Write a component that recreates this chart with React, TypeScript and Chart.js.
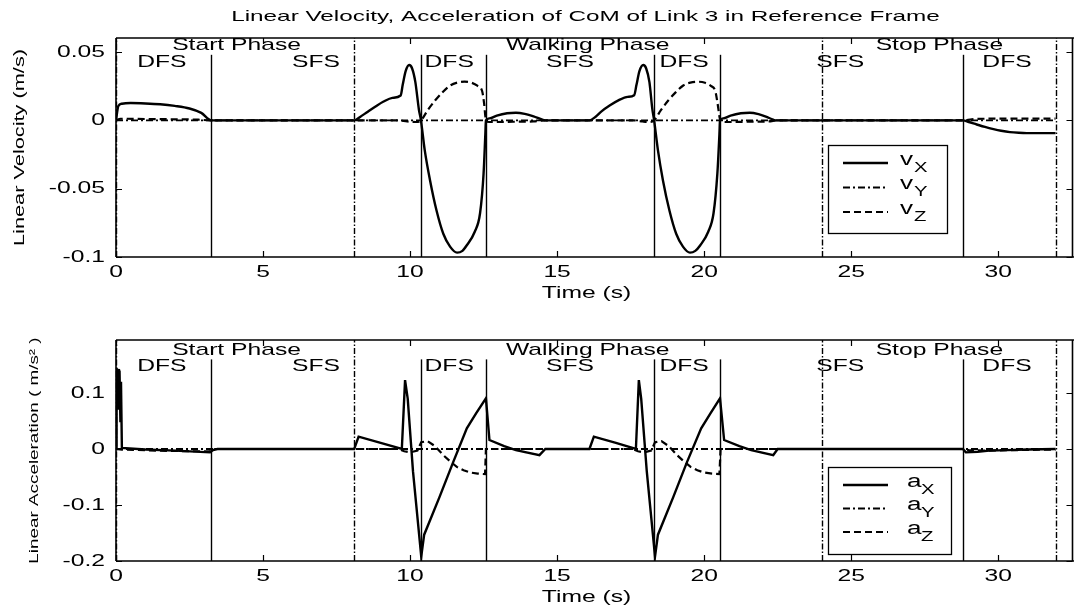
import React, { useEffect, useRef } from 'react';
import { Chart, registerables } from 'chart.js';

Chart.register(...registerables);

const FONT = '"Liberation Sans", Arial, Helvetica, sans-serif';
const TEXT_STRETCH = 1.45;
const TITLE_STRETCH = 1.62;

// ---------- texts ----------
const chartTitle = 'Linear Velocity, Acceleration of CoM of Link 3 in Reference Frame';
const xAxisTitle = 'Time (s)';
const velAxisTitle = 'Linear Velocity (m/s)';
const accAxisTitle = 'Linear Acceleration ( m/s\u00B2 )';

// ---------- axes ----------
const timeMin = 0;
const timeMax = 32;
const timeTicks = [0, 5, 10, 15, 20, 25, 30];
const timeTickLabels = ['0', '5', '10', '15', '20', '25', '30'];

const velMin = -0.1;
const velMax = 0.0603;
const velTicks = [-0.1, -0.05, 0, 0.05];
const velTickLabels = ['-0.1', '-0.05', '0', '0.05'];

const accMin = -0.2;
const accMax = 0.1946;
const accTicks = [-0.2, -0.1, 0, 0.1];
const accTickLabels = ['-0.2', '-0.1', '0', '0.1'];

// ---------- phases ----------
const phaseBounds = [0, 8.1, 24.0, 31.95];
const stepBounds = [3.23, 10.37, 12.58, 18.3, 20.54, 28.8];
const phaseNames = ['Start Phase', 'Walking Phase', 'Stop Phase'];
const phaseNameTimes = [4.1, 16.04, 28.0];
const stepNames = ['DFS', 'SFS', 'DFS', 'SFS', 'DFS', 'SFS', 'DFS'];
const stepNameTimes = [1.56, 6.8, 11.33, 15.44, 19.32, 24.63, 30.3];

// label heights / step line tops, in each plot's own units
const velPhaseLabelY = 0.0548;
const velStepLabelY = 0.0423;
const velStepLineTop = 0.048;
const accPhaseLabelY = 0.177;
const accStepLabelY = 0.148;
const accStepLineTop = 0.16;

// ---------- legend ----------
const velLegendBase = ['v', 'v', 'v'];
const accLegendBase = ['a', 'a', 'a'];
const legendSubs = ['X', 'Y', 'Z'];

// ---------- series: velocity (m/s) ----------
const vxPts: [number, number][] = [
  [0, 0], [0.08, 0.0105], [0.2, 0.0122], [0.5, 0.0127], [1.0, 0.0124], [1.5, 0.0118],
  [2.0, 0.0106], [2.5, 0.0087], [2.9, 0.0055], [3.25, 0], [8.1, 0], [8.3, 0.0025],
  [8.55, 0.0062], [8.8, 0.0098], [9.1, 0.0138], [9.4, 0.0165], [9.68, 0.0182],
  [9.75, 0.026], [9.85, 0.036], [9.97, 0.0405], [10.07, 0.038], [10.18, 0.028],
  [10.3, 0.008], [10.37, 0], [10.5, -0.022], [10.68, -0.044], [10.9, -0.066],
  [11.13, -0.083], [11.36, -0.0924], [11.6, -0.0968], [11.78, -0.0955], [11.93, -0.0914],
  [12.2, -0.0815], [12.38, -0.068], [12.5, -0.039], [12.56, -0.01], [12.58, 0],
  [12.7, 0.0015], [12.95, 0.0035], [13.3, 0.0052], [13.6, 0.0056], [13.9, 0.0048],
  [14.2, 0.003], [14.5, 0.0005], [14.6, 0], [16.1, 0], [16.3, 0.0025], [16.5, 0.0064],
  [16.8, 0.011], [17.1, 0.0148], [17.4, 0.0172], [17.62, 0.0184], [17.7, 0.026],
  [17.8, 0.036], [17.93, 0.0405], [18.03, 0.038], [18.14, 0.028], [18.24, 0.008],
  [18.3, 0], [18.43, -0.022], [18.6, -0.044], [18.82, -0.066], [19.05, -0.083],
  [19.28, -0.0924], [19.52, -0.0968], [19.7, -0.0955], [19.87, -0.0914], [20.14, -0.0815],
  [20.32, -0.068], [20.45, -0.039], [20.52, -0.01], [20.54, 0], [20.65, 0.0015],
  [20.9, 0.0035], [21.25, 0.0052], [21.55, 0.0056], [21.85, 0.0046], [22.1, 0.0028],
  [22.35, 0.0005], [22.45, 0], [28.8, 0], [29.0, -0.0012], [29.27, -0.003],
  [29.55, -0.0048], [29.84, -0.0064], [30.1, -0.0076], [30.4, -0.0086], [30.7, -0.0091],
  [30.97, -0.0093], [31.95, -0.0093],
];
const vyPts: [number, number][] = [[0, 0], [31.95, 0]];
const vzPts: [number, number][] = [
  [0, 0], [0.15, 0.0012], [1.0, 0.001], [2.0, 0.0008], [2.8, 0.0005], [3.25, 0],
  [9.6, 0], [9.9, -0.0008], [10.2, -0.0012], [10.37, 0], [10.6, 0.0075], [10.85, 0.0145],
  [11.1, 0.0205], [11.36, 0.0255], [11.6, 0.0276], [11.85, 0.0283], [12.1, 0.0275],
  [12.3, 0.0252], [12.45, 0.0215], [12.52, 0.012], [12.56, 0.003], [12.6, -0.001],
  [12.9, -0.0012], [13.5, -0.001], [14.2, -0.0008], [14.6, 0], [17.6, 0],
  [17.9, -0.0008], [18.15, -0.0012], [18.3, 0], [18.53, 0.0075], [18.78, 0.0145],
  [19.03, 0.0205], [19.29, 0.0255], [19.53, 0.0276], [19.78, 0.0283], [20.03, 0.0275],
  [20.23, 0.0252], [20.38, 0.0215], [20.46, 0.012], [20.52, 0.003], [20.56, -0.001],
  [20.85, -0.0012], [21.5, -0.001], [22.2, -0.0008], [22.5, 0], [28.8, 0],
  [29.1, 0.0008], [29.5, 0.0012], [30.5, 0.0013], [31.95, 0.0013],
];

// ---------- series: acceleration (m/s^2) ----------
const axPts: [number, number][] = [
  [0, 0], [0.02, 0.145], [0.05, 0.08], [0.07, 0.143], [0.1, 0.07], [0.12, 0.14],
  [0.15, 0.05], [0.17, 0.12], [0.2, 0.002],
  [1.0, -0.001], [2.0, -0.003], [3.2, -0.006], [3.3, -0.002], [3.45, 0], [8.1, 0],
  [8.25, 0.022], [9.0, 0.011], [9.72, 0], [9.83, 0.123], [9.92, 0.09], [10.1, -0.04],
  [10.38, -0.192], [10.48, -0.153], [11.0, -0.086], [11.47, -0.023], [11.93, 0.037],
  [12.25, 0.064], [12.58, 0.0905], [12.7, 0.016], [13.2, 0.005], [13.6, -0.002],
  [14.4, -0.011], [14.6, 0], [16.1, 0], [16.25, 0.022], [17.0, 0.011], [17.68, 0],
  [17.78, 0.123], [17.86, 0.09], [18.05, -0.04], [18.33, -0.192], [18.43, -0.153],
  [18.95, -0.086], [19.42, -0.023], [19.9, 0.037], [20.22, 0.064], [20.54, 0.0905],
  [20.68, 0.016], [21.2, 0.005], [21.6, -0.002], [22.35, -0.011], [22.5, 0], [28.8, 0],
  [28.9, -0.006], [29.3, -0.005], [29.7, -0.003], [30.3, -0.002], [31.0, -0.001], [31.95, 0],
];
const ayPts: [number, number][] = [[0, 0], [31.95, 0]];
const azPts: [number, number][] = [
  [0, 0], [0.2, -0.001], [1.5, -0.003], [2.5, -0.004], [3.2, -0.004], [3.3, 0],
  [9.6, 0], [9.8, -0.004], [10.0, -0.006], [10.25, -0.003], [10.38, 0.012], [10.6, 0.014],
  [10.85, 0.005], [11.13, -0.011], [11.36, -0.022], [11.59, -0.032], [11.82, -0.038],
  [12.04, -0.042], [12.3, -0.044], [12.55, -0.045], [12.58, 0], [17.55, 0],
  [17.75, -0.004], [17.95, -0.006], [18.2, -0.003], [18.33, 0.012], [18.55, 0.014],
  [18.8, 0.005], [19.08, -0.011], [19.31, -0.022], [19.54, -0.032], [19.77, -0.038],
  [20.0, -0.042], [20.27, -0.044], [20.52, -0.045], [20.56, 0], [28.8, 0],
  [29.0, -0.002], [29.5, -0.003], [30.5, -0.002], [31.95, -0.001],
];

// ---------- line styles ----------
const SOLID: number[] = [];
const DASHDOT = [7, 3, 2, 3];
const DASHED = [7, 4];
const lineStyles = [
  { dash: SOLID, width: 2.4 },
  { dash: DASHDOT, width: 1.8 },
  { dash: DASHED, width: 2.2 },
];

function installStretch(ctx: any) {
  if (ctx.__stretched) return;
  const orig = ctx.fillText;
  ctx.__stretched = true;
  ctx.__sx = TEXT_STRETCH;
  ctx.fillText = function (text: string, x: number, y: number, maxWidth?: number) {
    const sx = ctx.__sx || 1;
    ctx.save();
    ctx.translate(x, y);
    ctx.scale(sx, 1);
    if (maxWidth === undefined || maxWidth === null) orig.call(ctx, text, 0, 0);
    else orig.call(ctx, text, 0, 0, maxWidth / sx);
    ctx.restore();
  };
}

interface PlotSpec {
  series: [number, number][][];
  labels: string[];
  legendBase: string[];
  yMin: number;
  yMax: number;
  yTicks: number[];
  yTickLabels: string[];
  yTitle: string;
  yTitleSize: number;
  yTitlePad: number;
  padTop: number;
  xAxisHeight: number;
  xTitlePadBottom: number;
  phaseLabelY: number;
  stepLabelY: number;
  stepLineTop: number;
  legendBox: { x: number; y: number; w: number; h: number; rows: number[]; textX: number; subDx: number };
  smooth: boolean;
  showTitle: boolean;
}

function makeDecor(spec: PlotSpec) {
  return {
    id: 'decor',
    beforeInit(chart: any) {
      installStretch(chart.ctx);
    },
    beforeDatasetsDraw(chart: any) {
      const ctx = chart.ctx;
      const xs = chart.scales.x;
      const ys = chart.scales.y;
      const yBottom = ys.getPixelForValue(spec.yMin);
      ctx.save();
      ctx.strokeStyle = '#000';
      ctx.lineWidth = 1.4;
      ctx.setLineDash([]);
      for (const t of stepBounds) {
        const px = Math.round(xs.getPixelForValue(t)) + 0.5;
        ctx.beginPath();
        ctx.moveTo(px, yBottom);
        ctx.lineTo(px, ys.getPixelForValue(spec.stepLineTop));
        ctx.stroke();
      }
      ctx.setLineDash([6, 2, 1.5, 2]);
      for (const t of phaseBounds) {
        const px = Math.round(xs.getPixelForValue(t)) + 0.5;
        ctx.beginPath();
        ctx.moveTo(px, yBottom);
        ctx.lineTo(px, ys.getPixelForValue(spec.yMax));
        ctx.stroke();
      }
      ctx.restore();
    },
    afterDatasetsDraw(chart: any) {
      const ctx = chart.ctx;
      const xs = chart.scales.x;
      const ys = chart.scales.y;
      const { left, top, bottom } = chart.chartArea;
      const R = chart.width - 1.5;
      ctx.save();
      // frame
      ctx.strokeStyle = '#000';
      ctx.lineWidth = 1.6;
      ctx.setLineDash([]);
      ctx.beginPath();
      ctx.moveTo(left, top);
      ctx.lineTo(chart.width, top);
      ctx.moveTo(left, bottom);
      ctx.lineTo(chart.width, bottom);
      ctx.moveTo(left, top);
      ctx.lineTo(left, bottom);
      ctx.moveTo(R, top);
      ctx.lineTo(R, bottom);
      ctx.stroke();
      // inward ticks
      ctx.lineWidth = 1.2;
      ctx.beginPath();
      for (const tk of xs.ticks) {
        const px = Math.round(xs.getPixelForValue(tk.value)) + 0.5;
        ctx.moveTo(px, bottom);
        ctx.lineTo(px, bottom - 6);
        ctx.moveTo(px, top);
        ctx.lineTo(px, top + 6);
      }
      for (const tk of ys.ticks) {
        const py = Math.round(ys.getPixelForValue(tk.value)) + 0.5;
        ctx.moveTo(left, py);
        ctx.lineTo(left + 6, py);
        ctx.moveTo(R, py);
        ctx.lineTo(R - 6, py);
      }
      ctx.stroke();

      // phase and step labels
      ctx.fillStyle = '#000';
      ctx.textAlign = 'center';
      ctx.textBaseline = 'middle';
      ctx.font = `17px ${FONT}`;
      phaseNames.forEach((name, i) => {
        ctx.fillText(name, xs.getPixelForValue(phaseNameTimes[i]), ys.getPixelForValue(spec.phaseLabelY));
      });
      stepNames.forEach((name, i) => {
        ctx.fillText(name, xs.getPixelForValue(stepNameTimes[i]), ys.getPixelForValue(spec.stepLabelY));
      });

      // legend
      const lb = spec.legendBox;
      ctx.fillStyle = '#fff';
      ctx.fillRect(lb.x, lb.y, lb.w, lb.h);
      ctx.strokeStyle = '#000';
      ctx.lineWidth = 1.3;
      ctx.setLineDash([]);
      ctx.strokeRect(lb.x + 0.5, lb.y + 0.5, lb.w, lb.h);
      chart.data.datasets.forEach((ds: any, i: number) => {
        const ry = lb.rows[i];
        ctx.strokeStyle = '#000';
        ctx.lineWidth = ds.borderWidth;
        ctx.setLineDash(ds.borderDash || []);
        ctx.beginPath();
        ctx.moveTo(lb.x + 15, ry);
        ctx.lineTo(lb.x + 60, ry);
        ctx.stroke();
        ctx.setLineDash([]);
        ctx.fillStyle = '#000';
        ctx.textAlign = 'left';
        ctx.textBaseline = 'middle';
        ctx.font = `18px ${FONT}`;
        ctx.fillText(spec.legendBase[i], lb.textX, ry - 3);
        ctx.font = `14px ${FONT}`;
        ctx.fillText(legendSubs[i], lb.textX + lb.subDx, ry + 5);
      });

      // figure title
      if (spec.showTitle) {
        (ctx as any).__sx = TITLE_STRETCH;
        ctx.font = `15px ${FONT}`;
        ctx.textAlign = 'center';
        ctx.textBaseline = 'middle';
        ctx.fillStyle = '#000';
        ctx.fillText(chartTitle, (left + chart.chartArea.right) / 2 - 1, 17);
        (ctx as any).__sx = TEXT_STRETCH;
      }
      ctx.restore();
    },
  };
}

function makeConfig(spec: PlotSpec): any {
  return {
    type: 'line',
    data: {
      datasets: spec.series.map((pts, i) => ({
        label: spec.labels[i],
        data: pts.map(([x, y]) => ({ x, y })),
        borderColor: '#000',
        backgroundColor: '#000',
        borderWidth: lineStyles[i].width,
        borderDash: lineStyles[i].dash,
        pointRadius: 0,
        fill: false,
        tension: 0,
        cubicInterpolationMode: spec.smooth ? 'monotone' : 'default',
      })),
    },
    options: {
      animation: false,
      responsive: false,
      devicePixelRatio: 1,
      events: [],
      layout: { padding: { top: spec.padTop, right: 17, left: 0, bottom: 0 } },
      plugins: {
        legend: { display: false },
        tooltip: { enabled: false },
        title: { display: false },
      },
      scales: {
        x: {
          type: 'linear',
          min: timeMin,
          max: timeMax,
          afterBuildTicks: (s: any) => {
            s.ticks = timeTicks.map((v) => ({ value: v }));
          },
          afterFit: (s: any) => {
            s.height = spec.xAxisHeight;
          },
          grid: { display: false, drawTicks: false },
          border: { display: false },
          ticks: {
            color: '#000',
            font: { family: FONT, size: 17 },
            padding: 5,
            maxRotation: 0,
            autoSkip: false,
            callback: (v: number) => timeTickLabels[timeTicks.indexOf(v)] ?? '',
          },
          title: {
            display: true,
            text: xAxisTitle,
            color: '#000',
            font: { family: FONT, size: 17 },
            padding: { top: 0, bottom: spec.xTitlePadBottom },
          },
        },
        y: {
          type: 'linear',
          min: spec.yMin,
          max: spec.yMax,
          afterBuildTicks: (s: any) => {
            s.ticks = spec.yTicks.map((v) => ({ value: v }));
          },
          afterFit: (s: any) => {
            s.width = 116;
          },
          grid: { display: false, drawTicks: false },
          border: { display: false },
          ticks: {
            color: '#000',
            font: { family: FONT, size: 17 },
            padding: 11,
            autoSkip: false,
            callback: (v: number) => {
              const idx = spec.yTicks.findIndex((t) => Math.abs(t - v) < 1e-9);
              return idx >= 0 ? spec.yTickLabels[idx] : '';
            },
          },
          title: {
            display: true,
            text: spec.yTitle,
            color: '#000',
            font: { family: FONT, size: spec.yTitleSize },
            padding: { top: spec.yTitlePad, bottom: 0 },
          },
        },
      },
    },
    plugins: [makeDecor(spec)],
  };
}

const velSpec: PlotSpec = {
  series: [vxPts, vyPts, vzPts],
  labels: ['vX', 'vY', 'vZ'],
  legendBase: velLegendBase,
  yMin: velMin,
  yMax: velMax,
  yTicks: velTicks,
  yTickLabels: velTickLabels,
  yTitle: velAxisTitle,
  yTitleSize: 15,
  yTitlePad: 11,
  padTop: 38,
  xAxisHeight: 48,
  xTitlePadBottom: 1,
  phaseLabelY: velPhaseLabelY,
  stepLabelY: velStepLabelY,
  stepLineTop: velStepLineTop,
  legendBox: { x: 828, y: 145, w: 119, h: 88, rows: [163, 187.5, 212], textX: 900, subDx: 14 },
  smooth: true,
  showTitle: true,
};

const accSpec: PlotSpec = {
  series: [axPts, ayPts, azPts],
  labels: ['aX', 'aY', 'aZ'],
  legendBase: accLegendBase,
  yMin: accMin,
  yMax: accMax,
  yTicks: accTicks,
  yTickLabels: accTickLabels,
  yTitle: accAxisTitle,
  yTitleSize: 13,
  yTitlePad: 27,
  padTop: 35,
  xAxisHeight: 52,
  xTitlePadBottom: 5,
  phaseLabelY: accPhaseLabelY,
  stepLabelY: accStepLabelY,
  stepLineTop: accStepLineTop,
  legendBox: { x: 828, y: 162, w: 123, h: 87, rows: [180, 203.5, 227], textX: 907, subDx: 14 },
  smooth: false,
  showTitle: false,
};

function Plot({ spec, top, height }: { spec: PlotSpec; top: number; height: number }) {
  const ref = useRef<HTMLCanvasElement>(null);
  useEffect(() => {
    if (!ref.current) return;
    const chart = new Chart(ref.current, makeConfig(spec));
    return () => chart.destroy();
  }, [spec]);
  return (
    <canvas
      ref={ref}
      width={1074}
      height={height}
      style={{ position: 'absolute', left: 0, top, width: 1074, height, display: 'block' }}
    />
  );
}

export default function App() {
  return (
    <div
      style={{
        position: 'fixed',
        left: 0,
        top: 0,
        width: 1074,
        height: 613,
        background: '#fff',
        overflow: 'hidden',
      }}
    >
      <Plot spec={velSpec} top={0} height={305} />
      <Plot spec={accSpec} top={305} height={308} />
    </div>
  );
}
